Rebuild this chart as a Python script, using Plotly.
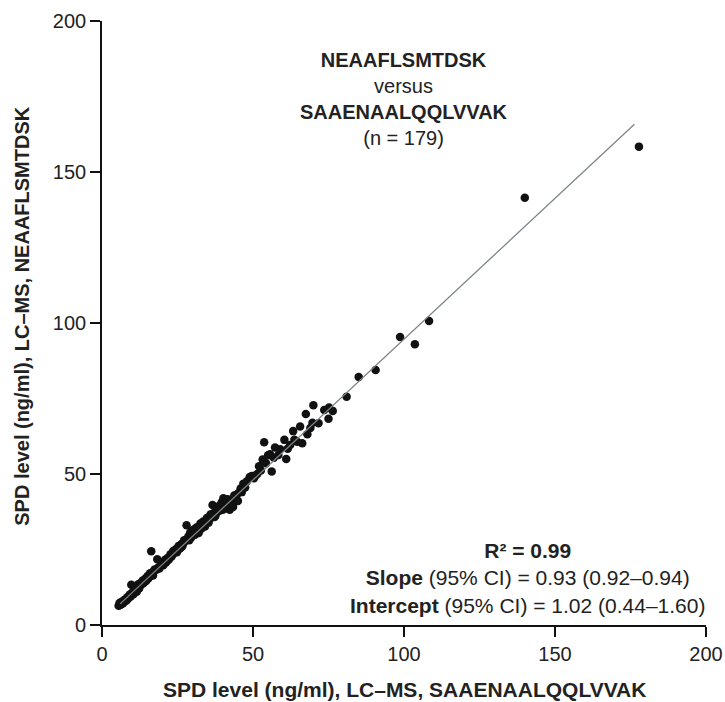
import plotly.graph_objects as go

# Measured SPD levels (ng/ml)
x_saa = [
    5.5, 5.8, 6.0, 6.2, 6.4, 6.8, 7.0, 7.3, 7.6, 7.9, 8.1, 8.4, 8.7, 9.0, 9.2, 9.5, 9.7, 9.9,
    10.2, 10.4, 10.7, 10.9, 11.2, 11.5, 11.7, 12.0, 12.3, 12.5, 12.8, 13.3, 13.5, 13.8, 14.1, 14.3,
    14.6, 14.9, 15.1, 15.4, 15.7, 15.9, 16.2, 16.3, 16.6, 16.9, 17.1, 17.4, 18.0, 18.3, 18.6, 19.0, 19.4,
    20.0, 20.3, 20.6, 20.9, 21.2, 21.5, 21.8, 22.1, 22.4, 22.7, 23.0, 23.3, 23.6, 24.2, 24.5, 24.8,
    25.1, 25.4, 25.7, 26.0, 26.3, 26.6, 26.9, 27.2, 27.8, 28.0, 28.3, 28.6, 28.9, 29.2, 29.5, 29.8, 29.9,
    30.2, 30.5, 30.8, 31.1, 31.4, 31.7, 32.0, 32.3, 32.6, 32.9, 33.2, 33.5, 33.8, 34.1, 34.4, 34.7,
    35.0, 35.3, 35.6, 35.9, 36.2, 36.6, 36.9, 37.3, 37.6, 37.9, 38.3, 38.7, 39.1, 39.6,
    40.0, 40.2, 40.5, 40.9, 41.3, 41.6, 42.0, 42.3, 42.7, 43.1, 43.4, 43.8, 44.2, 44.6, 45.0, 45.4,
    45.9, 46.3, 46.8, 47.4, 48.0, 48.9,
    49.6, 50.3, 50.8, 51.4, 52.0, 52.6, 53.2, 53.7, 54.3, 55.0, 55.6, 56.2, 56.9, 57.3, 58.4, 59.0,
    60.4, 61.0, 61.5, 62.3, 63.3, 63.7, 64.6, 65.6, 66.3, 67.5, 68.0, 69.0, 69.7, 70.0, 71.7, 73.6,
    75.0, 75.2, 76.4,
    81.0, 85.0, 90.6, 98.7, 103.6, 108.3, 140.0, 177.8,
]
y_nea = [
    6.4, 7.2, 6.6, 7.5, 6.9, 7.8, 7.2, 8.3, 7.9, 8.6, 8.1, 9.2, 8.8, 9.6, 10.1, 9.4, 13.3, 10.4,
    10.9, 10.2, 11.3, 12.4, 11.6, 11.0, 12.3, 13.5, 12.1, 12.8, 13.9, 13.6, 14.7, 13.9, 14.4, 15.3,
    14.6, 15.1, 16.2, 15.5, 16.0, 17.1, 16.5, 24.4, 17.0, 16.4, 17.8, 18.4, 18.3, 21.8, 19.0, 18.7, 19.6,
    20.4, 19.8, 21.0, 21.6, 20.7, 21.4, 22.3, 21.6, 22.5, 23.4, 22.6, 23.3, 24.5, 24.0, 25.2, 24.1,
    24.8, 26.2, 25.3, 25.5, 26.8, 26.1, 27.0, 28.1, 27.9, 33.0, 28.5, 29.3, 28.1, 30.6, 28.9, 29.6, 31.2,
    30.0, 31.7, 29.9, 30.9, 32.4, 31.0, 30.5, 32.2, 33.6, 31.9, 32.7, 34.3, 33.0, 32.6, 33.8, 35.4,
    34.4, 33.9, 35.1, 36.6, 35.5, 39.7, 37.0, 35.8, 36.3, 38.2, 37.6, 39.4, 37.9, 40.6,
    38.2, 42.0, 39.0, 38.6, 40.1, 41.6, 39.5, 38.2, 40.5, 41.3, 39.1, 42.9, 41.6, 43.2, 41.1, 43.9,
    45.2, 44.0, 46.8, 45.5, 47.6, 49.0,
    49.3, 48.6, 49.5, 50.0, 52.6, 51.2, 54.8, 60.5, 53.6, 56.2, 56.5, 50.8, 55.4, 58.8, 56.3, 58.2,
    61.3, 55.0, 58.4, 59.6, 64.2, 61.3, 60.7, 65.7, 60.2, 69.9, 63.2, 65.2, 67.0, 72.8, 66.8, 71.2,
    68.3, 72.0, 70.9,
    75.6, 82.1, 84.4, 95.4, 93.0, 100.7, 141.5, 158.4,
]

# Regression line end points
fit_x = [6.0, 176.3]
fit_y = [7.0, 165.8]

axis_ticks = [0, 50, 100, 150, 200]

FONT = "Liberation Sans, Arial, Helvetica, sans-serif"
TXT = "#222222"

fig = go.Figure()
fig.add_trace(go.Scatter(
    x=x_saa, y=y_nea, mode="markers",
    marker=dict(size=8.5, color="#111111", line=dict(width=0)),
    showlegend=False, hoverinfo="skip",
))
fig.add_trace(go.Scatter(
    x=fit_x, y=fit_y, mode="lines",
    line=dict(color="#7d8487", width=1.3),
    showlegend=False, hoverinfo="skip",
))

axis_common = dict(
    range=[0, 200], tickvals=axis_ticks, showgrid=False, zeroline=False,
    showline=True, linecolor="#111111", linewidth=1.6, automargin=False,
    ticks="outside", ticklen=10, tickwidth=1.6, tickcolor="#111111",
    tickfont=dict(family=FONT, size=20, color=TXT),
)

fig.update_layout(
    width=725, height=702,
    margin=dict(l=102, r=19, t=21, b=77),
    paper_bgcolor="white", plot_bgcolor="white",
    xaxis=dict(**axis_common),
    yaxis=dict(**axis_common),
    font=dict(family=FONT, color=TXT),
    annotations=[
        dict(xref="x", yref="y", x=100, y=174.3, showarrow=False,
             align="center", xanchor="center", yanchor="middle",
             text="<b>NEAAFLSMTDSK</b><br>versus<br><b>SAAENAALQQLVVAK</b><br>(n = 179)",
             font=dict(family=FONT, size=20, color=TXT)),
        dict(xref="x", yref="y", x=141, y=15.6, showarrow=False,
             align="center", xanchor="center", yanchor="middle",
             text="<b>R² = 0.99</b><br><b>Slope</b> (95% CI) = 0.93 (0.92–0.94)"
                  "<br><b>Intercept</b> (95% CI) = 1.02 (0.44–1.60)",
             font=dict(family=FONT, size=21, color=TXT)),
        dict(xref="paper", yref="paper", x=0.5, y=-0.1076, showarrow=False,
             xanchor="center", yanchor="middle",
             text="<b>SPD level (ng/ml), LC–MS, SAAENAALQQLVVAK</b>",
             font=dict(family=FONT, size=21, color=TXT)),
        dict(xref="paper", yref="paper", x=-0.1325, y=0.512, showarrow=False,
             xanchor="center", yanchor="middle", textangle=-90,
             text="<b>SPD level (ng/ml), LC–MS, NEAAFLSMTDSK</b>",
             font=dict(family=FONT, size=20, color=TXT)),
    ],
)

fig.write_html("out.html")
